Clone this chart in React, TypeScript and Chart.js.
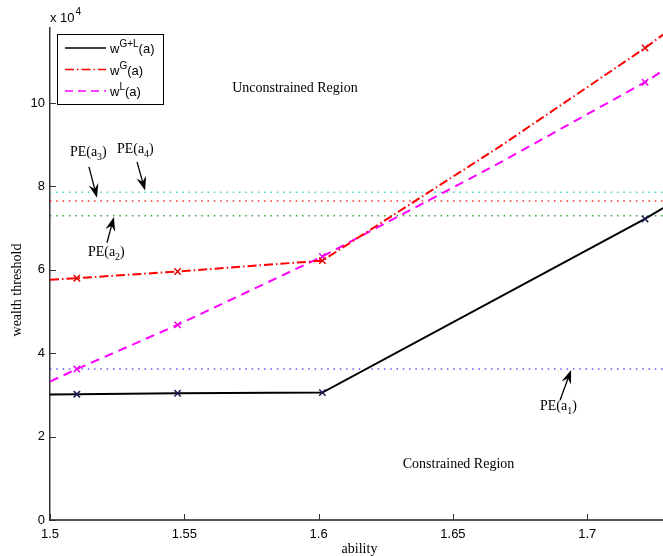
import { useEffect, useRef } from 'react';
import { Chart, registerables } from 'chart.js';

Chart.register(...registerables);

// ---------- data ----------
const abilityGL = [1.5, 1.51, 1.5475, 1.6014, 1.7215, 1.7282];
const wealthGL = [30100, 30170, 30400, 30550, 72200, 74800];

const abilityG = [1.5, 1.51, 1.5475, 1.6014, 1.6675, 1.7215, 1.7282];
const wealthG = [57600, 58000, 59600, 62200, 89600, 113200, 116400];

const abilityL = [1.5, 1.51, 1.5475, 1.6014, 1.6675, 1.7215, 1.7282];
const wealthL = [33200, 36200, 46800, 63200, 85700, 105000, 107800];

const markerAbility = [1.51, 1.5475, 1.6014, 1.7215];

const peNames = ['PE(a1)', 'PE(a2)', 'PE(a3)', 'PE(a4)'];
const peLevels = [36200, 73000, 76500, 78600];
const peColors = ['#5a5aff', '#2fa82f', '#f03030', '#3fcccc'];

const xTicks = [1.5, 1.55, 1.6, 1.65, 1.7];
const yTicks = [0, 20000, 40000, 60000, 80000, 100000];
const xMin = 1.5;
const xMax = 1.7282;
const yMin = 0;
const yMax = 118000;

// annotation anchors in data coordinates
const annotations = [
  { main: 'PE(a', sub: '1', x: 1.6824, y: 27200, tail: [1.6899, 28800], tip: [1.694, 36000] },
  { main: 'PE(a', sub: '2', x: 1.5141, y: 64100, tail: [1.5212, 66500], tip: [1.5238, 72700] },
  { main: 'PE(a', sub: '3', x: 1.5074, y: 88100, tail: [1.5145, 84700], tip: [1.5175, 77300] },
  { main: 'PE(a', sub: '4', x: 1.5249, y: 89000, tail: [1.5324, 85900], tip: [1.5354, 79000] },
];
const regionLabels = [
  { text: 'Unconstrained Region', x: 1.5678, y: 103600 },
  { text: 'Constrained Region', x: 1.6313, y: 13400 },
];

const SANS = '"Liberation Sans", Arial, Helvetica, sans-serif';
const SERIF = '"Liberation Serif", "Times New Roman", Times, serif';

function pts(xs: number[], ys: number[]) {
  return xs.map((x, i) => ({ x, y: ys[i] }));
}
function markerRadius(xs: number[]) {
  return xs.map((a) => (markerAbility.includes(a) ? 4.5 : 0));
}

function drawArrow(ctx: CanvasRenderingContext2D, x1: number, y1: number, x2: number, y2: number) {
  const ang = Math.atan2(y2 - y1, x2 - x1);
  const len = 14;
  const half = 5;
  const bx = x2 - len * Math.cos(ang);
  const by = y2 - len * Math.sin(ang);
  const nx = x2 - len * 0.65 * Math.cos(ang);
  const ny = y2 - len * 0.65 * Math.sin(ang);
  ctx.strokeStyle = '#000';
  ctx.lineWidth = 1.3;
  ctx.beginPath();
  ctx.moveTo(x1, y1);
  ctx.lineTo(nx, ny);
  ctx.stroke();
  ctx.fillStyle = '#000';
  ctx.beginPath();
  ctx.moveTo(x2, y2);
  ctx.lineTo(bx + half * Math.sin(ang), by - half * Math.cos(ang));
  ctx.lineTo(nx, ny);
  ctx.lineTo(bx - half * Math.sin(ang), by + half * Math.cos(ang));
  ctx.closePath();
  ctx.fill();
}

function drawSupText(ctx: CanvasRenderingContext2D, x: number, y: number, base: string, sup: string, tail: string) {
  ctx.textAlign = 'left';
  ctx.textBaseline = 'alphabetic';
  ctx.font = `13px ${SANS}`;
  ctx.fillText(base, x, y);
  let cx = x + ctx.measureText(base).width;
  ctx.font = `10px ${SANS}`;
  ctx.fillText(sup, cx, y - 6);
  cx += ctx.measureText(sup).width;
  ctx.font = `13px ${SANS}`;
  ctx.fillText(tail, cx, y);
}

const overlay = {
  id: 'overlay',
  afterDraw(chart: any) {
    const { ctx, chartArea: ca } = chart;
    const xs = chart.scales.x;
    const ys = chart.scales.y;
    ctx.save();

    // inner tick marks
    ctx.strokeStyle = '#333';
    ctx.lineWidth = 1;
    ctx.beginPath();
    xTicks.forEach((v) => {
      const px = Math.round(xs.getPixelForValue(v)) + 0.5;
      ctx.moveTo(px, ca.bottom);
      ctx.lineTo(px, ca.bottom - 6);
    });
    yTicks.forEach((v) => {
      const py = Math.round(ys.getPixelForValue(v)) + 0.5;
      ctx.moveTo(ca.left, py);
      ctx.lineTo(ca.left + 6, py);
    });
    ctx.stroke();

    // exponent
    ctx.fillStyle = '#000';
    ctx.textAlign = 'left';
    ctx.textBaseline = 'alphabetic';
    ctx.font = `13px ${SANS}`;
    ctx.fillText('x 10', ca.left, ca.top - 6);
    const w = ctx.measureText('x 10').width;
    ctx.font = `10px ${SANS}`;
    ctx.fillText('4', ca.left + w + 1, ca.top - 13);

    // axis titles
    ctx.font = `14px ${SERIF}`;
    ctx.textAlign = 'center';
    ctx.textBaseline = 'middle';
    ctx.fillText('ability', (ca.left + ca.right) / 2 + 3, ca.bottom + 29);
    ctx.save();
    ctx.translate(17, 290);
    ctx.rotate(-Math.PI / 2);
    ctx.fillText('wealth threshold', 0, 0);
    ctx.restore();

    // region labels
    ctx.textAlign = 'left';
    regionLabels.forEach((r) => {
      ctx.font = `14px ${SERIF}`;
      ctx.fillText(r.text, xs.getPixelForValue(r.x), ys.getPixelForValue(r.y));
    });

    // PE annotations
    annotations.forEach((a) => {
      const px = xs.getPixelForValue(a.x);
      const py = ys.getPixelForValue(a.y);
      ctx.fillStyle = '#000';
      ctx.textAlign = 'left';
      ctx.textBaseline = 'middle';
      ctx.font = `14px ${SERIF}`;
      ctx.fillText(a.main, px, py);
      let cx = px + ctx.measureText(a.main).width;
      ctx.font = `10px ${SERIF}`;
      ctx.fillText(a.sub, cx, py + 5);
      cx += ctx.measureText(a.sub).width;
      ctx.font = `14px ${SERIF}`;
      ctx.fillText(')', cx, py);
      drawArrow(
        ctx,
        xs.getPixelForValue(a.tail[0]),
        ys.getPixelForValue(a.tail[1]),
        xs.getPixelForValue(a.tip[0]),
        ys.getPixelForValue(a.tip[1])
      );
    });

    // legend box
    const lx = ca.left + 7;
    const ly = ca.top + 6;
    const lw = 106;
    const lh = 70;
    ctx.fillStyle = '#fff';
    ctx.fillRect(lx, ly, lw, lh);
    ctx.strokeStyle = '#000';
    ctx.lineWidth = 1;
    ctx.strokeRect(lx + 0.5, ly + 0.5, lw, lh);
    const rows = [
      { color: '#000', dash: [] as number[], sup: 'G+L' },
      { color: '#ff0000', dash: [9, 3, 1.5, 3], sup: 'G' },
      { color: '#ff00ff', dash: [8, 5], sup: 'L' },
    ];
    rows.forEach((r, i) => {
      const yy = ly + 14 + i * 21.5;
      ctx.strokeStyle = r.color;
      ctx.lineWidth = 1.6;
      ctx.setLineDash(r.dash);
      ctx.beginPath();
      ctx.moveTo(lx + 8, yy);
      ctx.lineTo(lx + 49, yy);
      ctx.stroke();
      ctx.setLineDash([]);
      ctx.fillStyle = '#000';
      drawSupText(ctx, lx + 53, yy + 5, 'w', r.sup, '(a)');
    });

    ctx.restore();
  },
};

export default function App() {
  const ref = useRef<HTMLCanvasElement | null>(null);

  useEffect(() => {
    if (!ref.current) return;
    const peSets = peLevels.map((v, i) => ({
      label: peNames[i],
      data: [
        { x: xMin, y: v },
        { x: xMax, y: v },
      ],
      borderColor: peColors[i],
      borderWidth: 1.5,
      borderDash: [1.5, 4.8],
      pointRadius: 0,
      fill: false,
      tension: 0,
    }));
    const chart = new Chart(ref.current, {
      type: 'line',
      data: {
        datasets: [
          {
            label: 'w^{G+L}(a)',
            data: pts(abilityGL, wealthGL),
            borderColor: '#000',
            borderWidth: 2,
            pointStyle: 'crossRot',
            pointRadius: markerRadius(abilityGL),
            pointBorderColor: '#1a1a55',
            pointBorderWidth: 1.5,
            fill: false,
            tension: 0,
          },
          {
            label: 'w^G(a)',
            data: pts(abilityG, wealthG),
            borderColor: '#ff0000',
            borderWidth: 2,
            borderDash: [9, 3, 1.5, 3],
            pointStyle: 'crossRot',
            pointRadius: markerRadius(abilityG),
            pointBorderColor: '#dd0000',
            pointBorderWidth: 1.5,
            fill: false,
            tension: 0,
          },
          {
            label: 'w^L(a)',
            data: pts(abilityL, wealthL),
            borderColor: '#ff00ff',
            borderWidth: 2,
            borderDash: [9, 6],
            pointStyle: 'crossRot',
            pointRadius: markerRadius(abilityL),
            pointBorderColor: '#ee00ee',
            pointBorderWidth: 1.5,
            fill: false,
            tension: 0,
          },
          ...peSets,
        ],
      },
      options: {
        animation: false,
        responsive: false,
        maintainAspectRatio: false,
        layout: { padding: { top: 28, right: 0, left: 0, bottom: 0 } },
        plugins: { legend: { display: false }, tooltip: { enabled: false } },
        scales: {
          x: {
            type: 'linear',
            min: xMin,
            max: xMax,
            afterFit: (s: any) => {
              s.height = 36;
            },
            afterBuildTicks: (s: any) => {
              s.ticks = xTicks.map((v) => ({ value: v }));
            },
            grid: { display: false, drawTicks: false },
            border: { display: true, color: '#555', width: 2 },
            ticks: {
              padding: 7,
              color: '#000',
              maxRotation: 0,
              autoSkip: false,
              font: { family: SANS, size: 13 },
              callback: (v: any) => String(Number(Number(v).toFixed(2))),
            },
          },
          y: {
            type: 'linear',
            min: yMin,
            max: yMax,
            afterFit: (s: any) => {
              s.width = 50;
            },
            afterBuildTicks: (s: any) => {
              s.ticks = yTicks.map((v) => ({ value: v }));
            },
            grid: { display: false, drawTicks: false },
            border: { display: true, color: '#333', width: 1.5 },
            ticks: {
              padding: 5,
              color: '#000',
              autoSkip: false,
              font: { family: SANS, size: 13 },
              callback: (v: any) => String(Number(v) / 10000),
            },
          },
        },
      },
      plugins: [overlay],
    } as any);
    return () => chart.destroy();
  }, []);

  return (
    <div style={{ position: 'fixed', left: 0, top: 0, width: 663, height: 556, background: '#fff' }}>
      <canvas ref={ref} width={663} height={556} style={{ width: 663, height: 556, display: 'block' }} />
    </div>
  );
}
